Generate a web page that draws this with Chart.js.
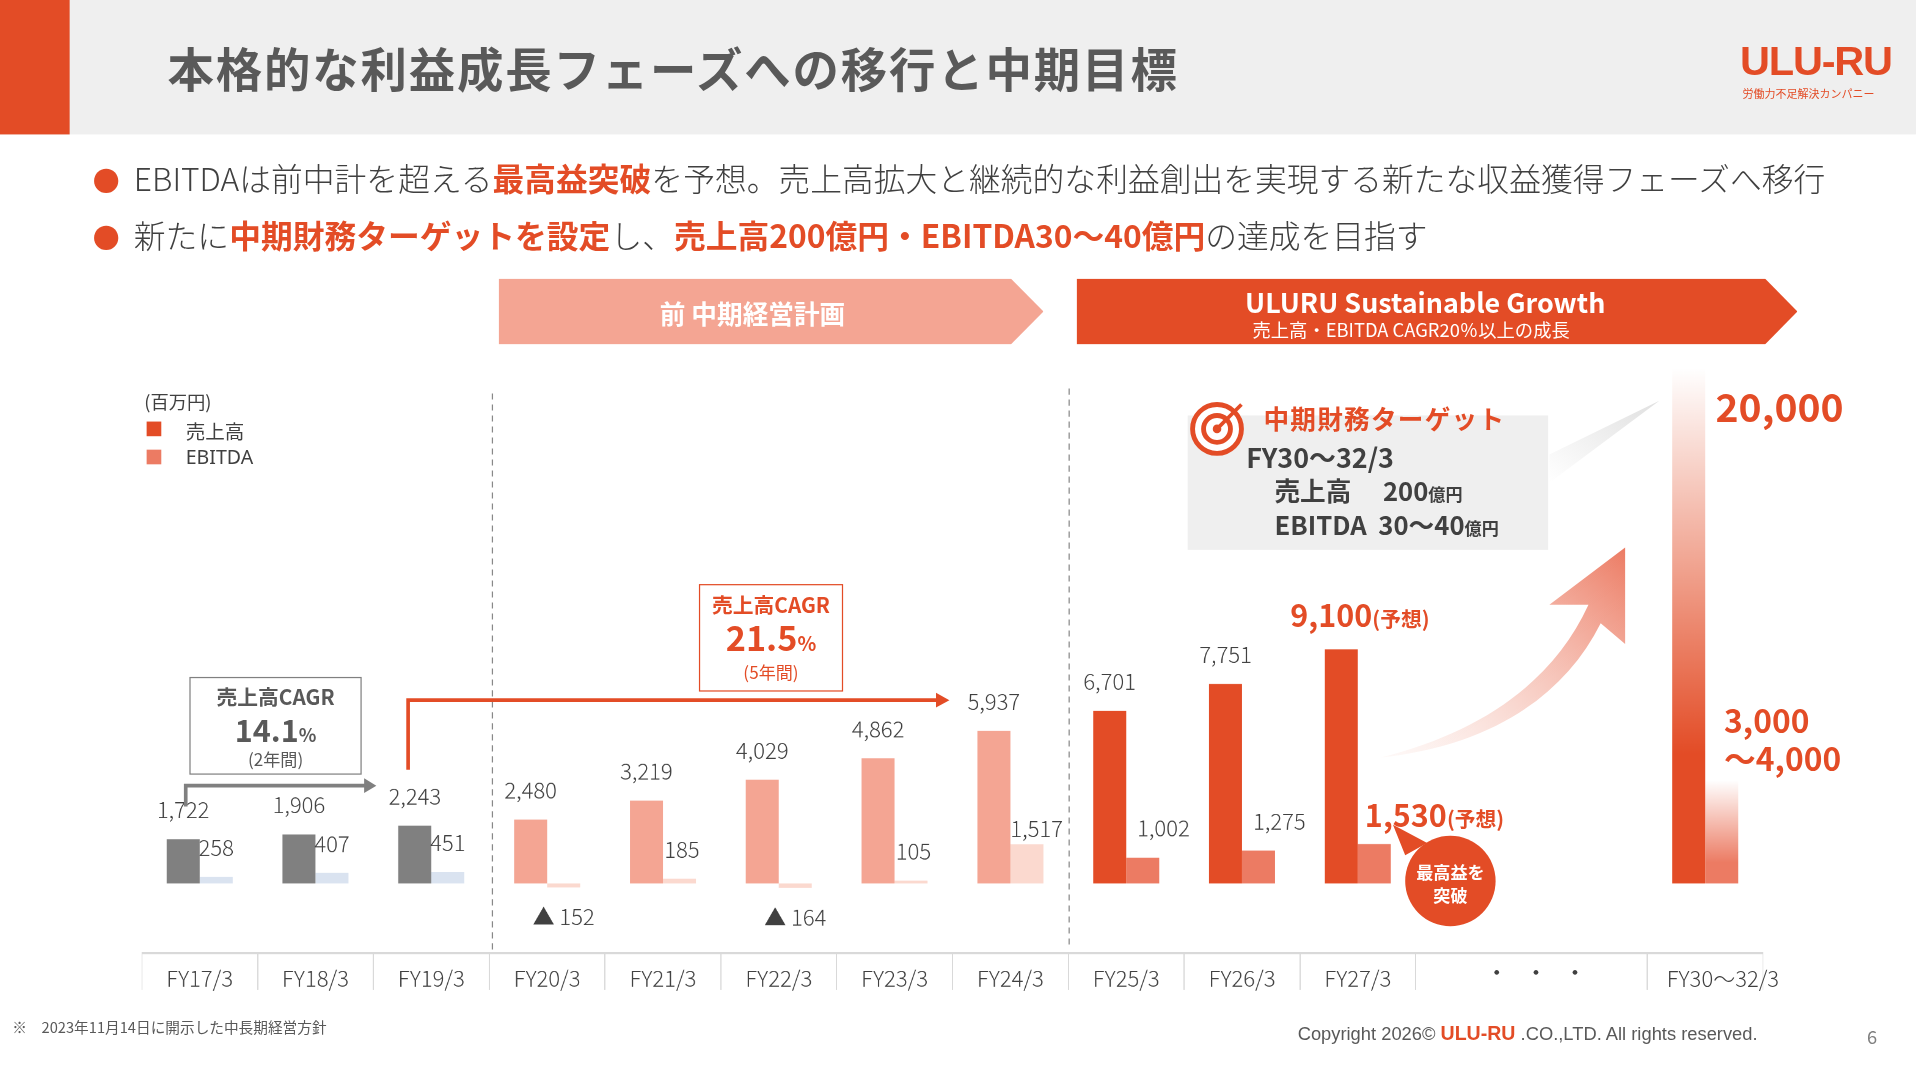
<!DOCTYPE html>
<html><head><meta charset="utf-8">
<script src="https://cdn.jsdelivr.net/npm/chart.js@4"></script>
<style>
html,body{margin:0;padding:0;background:#fff;overflow:hidden}
#page{position:absolute;left:0;top:0;width:1568px;height:882px;transform:scale(1.2219);transform-origin:0 0;font-family:"Noto Sans CJK JP","Noto Sans",sans-serif;color:#404040}
.a{position:absolute;white-space:nowrap}
.a b{font-weight:700}
#cw{position:absolute;left:116px;top:290px;width:1327px;height:530px}
</style></head><body>
<div id="page">
<div class="a" style="left:0;top:0;width:1568px;height:110px;background:#efefef"></div>
<div class="a" style="left:0;top:0;width:57px;height:110px;background:#e34c26"></div>
<div class="a" style="left:137px;top:27px;font-size:38px;font-weight:700;color:#595959;letter-spacing:1.5px">本格的な利益成長フェーズへの移行と中期目標</div>
<div class="a" style="left:1424px;top:30px;font-size:34px;font-weight:900;color:#e34c26;font-family:'Liberation Sans',sans-serif;letter-spacing:-1px">ULU-RU</div>
<div class="a" style="left:1426px;top:70px;font-size:9px;color:#e34c26">労働力不足解決カンパニー</div>
<div class="a" style="left:76px;top:126px;font-size:26px;font-weight:300;color:#404040"><span style="color:#e34c26;font-size:22px">●</span>&nbsp; EBITDAは前中計を超える<b style="color:#e34c26">最高益突破</b>を予想。売上高拡大と継続的な利益創出を実現する新たな収益獲得フェーズへ移行</div>
<div class="a" style="left:76px;top:173px;font-size:26px;font-weight:300;color:#404040"><span style="color:#e34c26;font-size:22px">●</span>&nbsp; 新たに<b style="color:#e34c26">中期財務ターゲットを設定</b>し、<b style="color:#e34c26">売上高200億円・EBITDA30～40億円</b>の達成を目指す</div>
<div class="a" style="left:408px;top:228px;width:446px;height:54px;background:#f4a593;clip-path:polygon(0 0,94% 0,100% 50%,94% 100%,0 100%)"></div>
<div class="a" style="left:540px;top:241px;font-size:21px;font-weight:700;color:#fff">前 中期経営計画</div>
<div class="a" style="left:881px;top:228px;width:590px;height:54px;background:#e34c26;clip-path:polygon(0 0,95.5% 0,100% 50%,95.5% 100%,0 100%)"></div>
<div class="a" style="left:1019px;top:230px;font-size:22px;font-weight:700;color:#fff">ULURU Sustainable Growth</div>
<div class="a" style="left:1025px;top:259px;font-size:15px;color:#fff">売上高・EBITDA CAGR20％以上の成長</div>
<div class="a" style="left:118px;top:318px;font-size:15px">(百万円)</div>
<div class="a" style="left:120px;top:345px;width:12px;height:12px;background:#e34c26"></div>
<div class="a" style="left:152px;top:340px;font-size:16px">売上高</div>
<div class="a" style="left:120px;top:368px;width:12px;height:12px;background:#ec7b63"></div>
<div class="a" style="left:152px;top:363px;font-size:16px;font-family:'Noto Sans',sans-serif">EBITDA</div>
<div id="cw"><canvas id="c"></canvas></div>
<div class="a" style="left:972px;top:340px;width:295px;height:110px;background:#efefef"></div>
<svg class="a" style="left:0;top:0" width="1568" height="882">
<defs>
<linearGradient id="ga" x1="0" y1="1" x2="1" y2="0"><stop offset="0" stop-color="#f6c7bb" stop-opacity="0.1"/><stop offset="1" stop-color="#ec7b63"/></linearGradient>
<linearGradient id="gb" x1="0" y1="1" x2="1" y2="0"><stop offset="0" stop-color="#fff"/><stop offset="1" stop-color="#e0e0e0"/></linearGradient>
</defs>
<line x1="403" y1="322" x2="403" y2="778" stroke="#888" stroke-dasharray="5,4"/>
<line x1="875" y1="318" x2="875" y2="775" stroke="#888" stroke-dasharray="5,4"/>
<path d="M1268 395 L1358 328 L1268 372 Z" fill="url(#gb)"/>
<path d="M1130 620 C1210 600 1270 560 1300 495 L1268 495 L1330 448 L1330 527 L1310 510 C1280 570 1220 610 1130 620 Z" fill="url(#ga)"/>
<polyline points="152,660 152,643 300,643" fill="none" stroke="#808080" stroke-width="3"/>
<path d="M298 637 L308 643 L298 649 Z" fill="#808080"/>
<polyline points="334,630 334,573 768,573" fill="none" stroke="#e34c26" stroke-width="3"/>
<path d="M766 567 L777 573 L766 579 Z" fill="#e34c26"/>
<circle cx="1187" cy="721" r="37" fill="#e34c26"/>
<path d="M1150 700 L1140 675 L1168 690 Z" fill="#e34c26"/>
<circle cx="996" cy="351" r="20" fill="#fff" stroke="#e34c26" stroke-width="4"/>
<circle cx="996" cy="351" r="11" fill="none" stroke="#e34c26" stroke-width="4"/>
<circle cx="996" cy="351" r="3.5" fill="#e34c26"/>
<line x1="996" y1="351" x2="1016" y2="331" stroke="#e34c26" stroke-width="3"/>
</svg>
<div class="a" style="left:155px;top:554px;width:139px;height:78px;border:1.5px solid #808080;background:#fff"></div>
<div class="a" style="left:155px;top:557px;width:141px;text-align:center;font-size:17px;font-weight:700;color:#595959">売上高CAGR</div>
<div class="a" style="left:155px;top:578px;width:141px;text-align:center;font-size:25px;font-weight:700;color:#595959">14.1<span style="font-size:15px">%</span></div>
<div class="a" style="left:155px;top:611px;width:141px;text-align:center;font-size:14px;color:#595959">(2年間)</div>
<div class="a" style="left:572px;top:478px;width:116px;height:86px;border:1.5px solid #e34c26;background:#fff"></div>
<div class="a" style="left:572px;top:482px;width:118px;text-align:center;font-size:17px;font-weight:700;color:#e34c26">売上高CAGR</div>
<div class="a" style="left:572px;top:501px;width:118px;text-align:center;font-size:28px;font-weight:700;color:#e34c26">21.5<span style="font-size:16px">%</span></div>
<div class="a" style="left:572px;top:540px;width:118px;text-align:center;font-size:14px;color:#e34c26">(5年間)</div>
<div class="a" style="left:1034px;top:327px;font-size:21px;font-weight:700;color:#e34c26;letter-spacing:1px">中期財務ターゲット</div>
<div class="a" style="left:1020px;top:357px;font-size:22px;font-weight:700;color:#404040">FY30～32/3</div>
<div class="a" style="left:1043px;top:386px;font-size:21px;font-weight:700;color:#404040">売上高　 200<span style="font-size:14px">億円</span></div>
<div class="a" style="left:1043px;top:414px;font-size:21px;font-weight:700;color:#404040">EBITDA&nbsp; 30～40<span style="font-size:14px">億円</span></div>
<div class="a" style="left:1056px;top:484px;font-size:25px;font-weight:700;color:#e34c26">9,100<span style="font-size:17px">(予想)</span></div>
<div class="a" style="left:1117px;top:648px;font-size:25px;font-weight:700;color:#e34c26">1,530<span style="font-size:17px">(予想)</span></div>
<div class="a" style="left:1150px;top:704px;width:74px;text-align:center;font-size:14px;font-weight:700;color:#fff;line-height:19px">最高益を<br>突破</div>
<div class="a" style="left:1404px;top:308px;font-size:32px;font-weight:700;color:#e34c26">20,000</div>
<div class="a" style="left:1411px;top:573px;font-size:26px;font-weight:700;color:#e34c26;line-height:31px">3,000<br>～4,000</div>
<div class="a" style="left:1216px;top:781px;font-size:18px;color:#404040;letter-spacing:14px">・・・</div>
<div class="a" style="left:1364px;top:787px;font-size:18px;font-weight:300;color:#404040">FY30～32/3</div>
<div class="a" style="left:10px;top:831px;font-size:12px;color:#595959">※　2023年11月14日に開示した中長期経営方針</div>
<div class="a" style="left:1062px;top:837px;font-size:15px;color:#595959;font-family:'Liberation Sans',sans-serif">Copyright 2026© <b style="color:#e34c26;font-size:16px">ULU-RU</b> .CO.,LTD. All rights reserved.</div>
<div class="a" style="left:1528px;top:837px;font-size:15px;color:#808080">6</div>
</div>
<script>
const categories=['FY17/3','FY18/3','FY19/3','FY20/3','FY21/3','FY22/3','FY23/3','FY24/3','FY25/3','FY26/3','FY27/3','','',''];
const sales=[1722,1906,2243,2480,3219,4029,4862,5937,6701,7751,9100,null,null,20000];
const ebitda=[258,407,451,-152,185,-164,105,1517,1002,1275,1530,null,null,4000];
const salesLabels=['1,722','1,906','2,243','2,480','3,219','4,029','4,862','5,937','6,701','7,751','','','',''];
const ebitdaLabels=['258','407','451','▲ 152','185','▲ 164','105','1,517','1,002','1,275','','','',''];
const salesColors=['#808080','#808080','#808080','#f4a593','#f4a593','#f4a593','#f4a593','#f4a593','#e34c26','#e34c26','#e34c26',null,null,'grad1'];
const ebitdaColors=['#dae3f0','#dae3f0','#dae3f0','#fbd9cf','#fbd9cf','#fbd9cf','#fbd9cf','#fbd9cf','#ec7b63','#ec7b63','#ec7b63',null,null,'grad2'];
function col(arr,ctx){
  const c=arr[ctx.dataIndex];
  if(c==='grad1'||c==='grad2'){
    const ch=ctx.chart; if(!ch.chartArea) return '#e34c26';
    const y=ch.scales.y; const g=ch.ctx.createLinearGradient(0,y.getPixelForValue(c==='grad1'?20000:4000),0,y.getPixelForValue(0));
    g.addColorStop(0,'rgba(255,255,255,1)'); g.addColorStop(c==='grad1'?0.75:0.8,c==='grad1'?'#e34c26':'#ec7b63'); g.addColorStop(1,c==='grad1'?'#e34c26':'#ec7b63'); return g;
  }
  return c;
}
const labelPlugin={id:'lbl',afterDatasetsDraw(ch){
  const c=ch.ctx; c.save(); c.font='300 18px "Noto Sans CJK JP"'; c.fillStyle='#404040'; c.textAlign='center'; c.textBaseline='middle';
  ch.getDatasetMeta(0).data.forEach((b,i)=>{ if(salesLabels[i]) c.fillText(salesLabels[i],b.x,b.y-24);});
  ch.getDatasetMeta(1).data.forEach((b,i)=>{ if(!ebitdaLabels[i]) return;
    if(ebitda[i]<0) c.fillText(ebitdaLabels[i],b.x,b.y+24);
    else c.fillText(ebitdaLabels[i],b.x+(i==7?8:i>7?17:i<3?0:2),b.y-(i==7?13:24));});
  c.restore();
}};
Chart.defaults.font.family='"Noto Sans CJK JP","Noto Sans",sans-serif';
new Chart(document.getElementById('c'),{type:'bar',
 data:{labels:categories,datasets:[
  {label:'売上高',data:sales,backgroundColor:ctx=>col(salesColors,ctx),categoryPercentage:0.57,barPercentage:1},
  {label:'EBITDA',data:ebitda,backgroundColor:ctx=>col(ebitdaColors,ctx),categoryPercentage:0.57,barPercentage:1}]},
 options:{responsive:true,maintainAspectRatio:false,animation:false,devicePixelRatio:2,layout:{padding:0},
  plugins:{legend:{display:false},tooltip:{enabled:false}},
  scales:{
   x:{offset:true,grid:{offset:true,drawOnChartArea:false,tickLength:30,color:c=>c.index===12?'rgba(0,0,0,0)':'#d9d9d9'},border:{color:'#d9d9d9',width:2},
      ticks:{color:'#404040',font:{size:18,weight:300},padding:-20,maxRotation:0,autoSkip:false},afterFit:s=>{s.height=40}},
   y:{display:false,min:-2707,max:20560}}},
 plugins:[labelPlugin]});
</script>
</body></html>
